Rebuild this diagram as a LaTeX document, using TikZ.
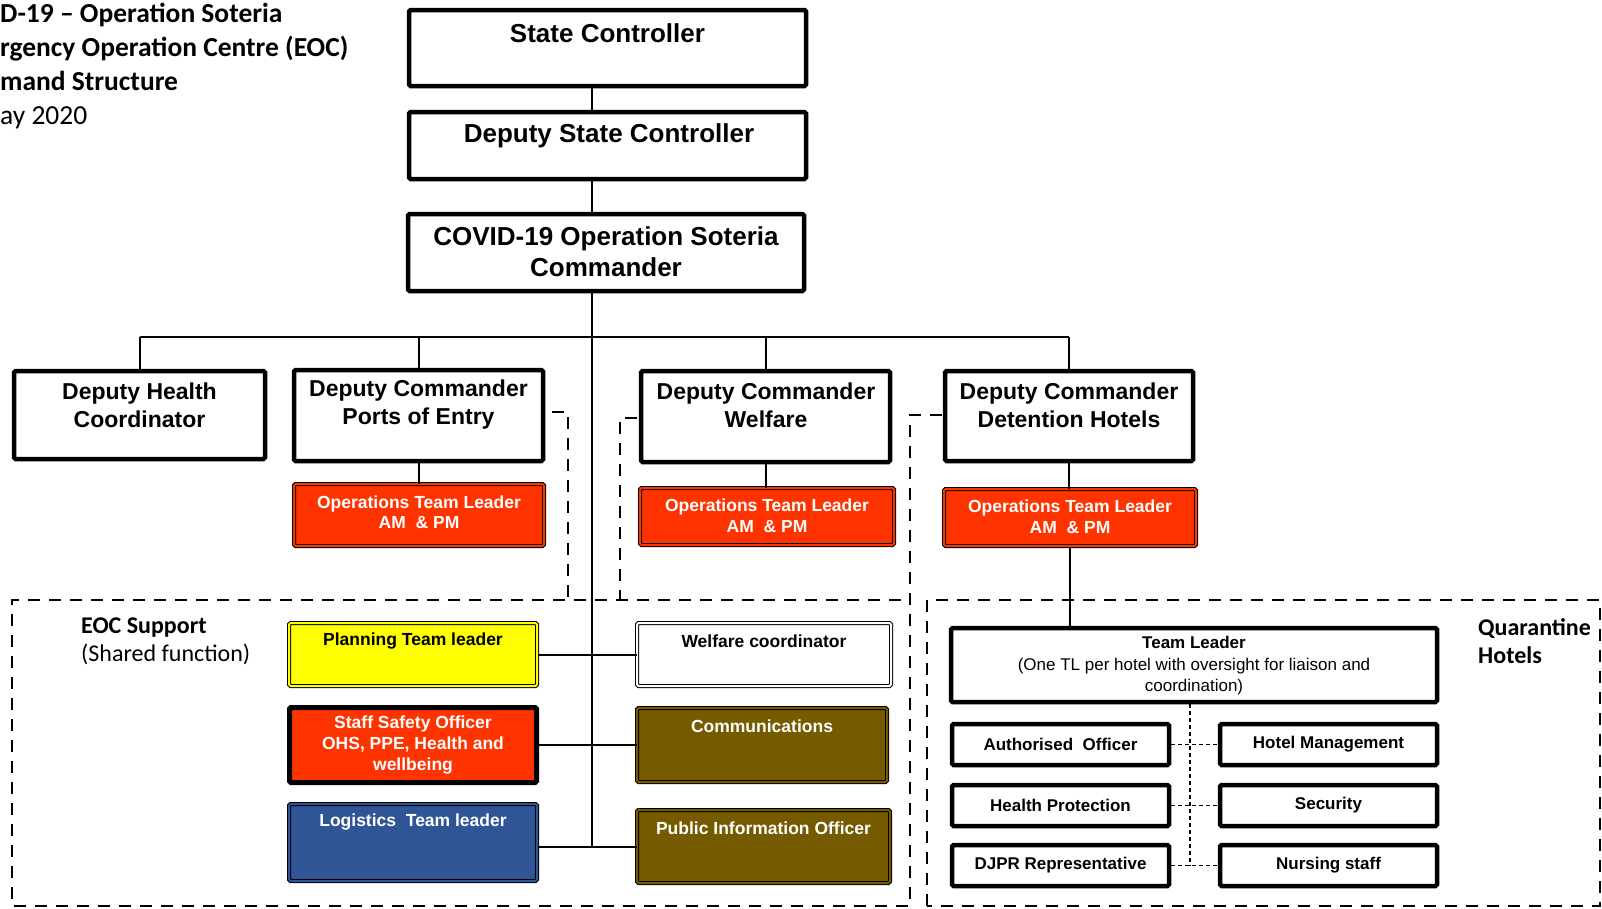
\documentclass[tikz,border=0pt]{standalone}
\usepackage{fontspec}
\setmainfont{Liberation Sans}
\newfontfamily\calfont{Carlito}

\definecolor{opsred}{RGB}{255,51,0}
\definecolor{planyel}{RGB}{255,255,0}
\definecolor{logblue}{RGB}{47,85,151}
\definecolor{commbrown}{RGB}{117,90,0}

\tikzset{
  thickbox/.style={draw, line width=4.5pt, rounded corners=1.5pt, inner sep=0pt},
  dblbox/.style={draw=black, line width=1pt, double distance=2pt, rounded corners=1.5pt, inner sep=0pt},
  link/.style={line width=2pt},
  region/.style={line width=2.5pt, dash pattern=on 12pt off 9pt},
  qlink/.style={line width=1.2pt, dash pattern=on 4pt off 3pt},
  headtxt/.style={font=\bfseries\fontsize{26}{31}\selectfont, align=center, inner sep=0pt},
  deptxt/.style={font=\bfseries\fontsize{23}{28}\selectfont, align=center, inner sep=0pt},
  smalltxt/.style={font=\bfseries\fontsize{17.5}{20.5}\selectfont, align=center, inner sep=0pt},
  qtxt/.style={font=\bfseries\fontsize{17}{20}\selectfont, align=center},
}

\begin{document}
\begin{tikzpicture}[x=1pt,y=1pt,yscale=-1,xscale=1]
\useasboundingbox (0,0) rectangle (1602,908);
\clip (0,0) rectangle (1602,908);

% dashed regions
\draw[region] (552,412) -- (568,412) -- (568,600);
\draw[region] (637,418) -- (620,418) -- (620,600);
\draw[region] (942,415) -- (910,415) -- (910,906) -- (12,906) -- (12,600) -- (910,600);
\draw[region] (927,906) -- (927,600) -- (1600,600) -- (1600,906) -- cycle;

% title and region labels
\node (title) [anchor=west, align=left, inner sep=0pt, font=\calfont\fontsize{27.5}{34}\selectfont] at (0,66)
  {\textbf{D-19 – Operation Soteria}\\ \textbf{rgency Operation Centre (EOC)}\\ \textbf{mand Structure}\\ ay 2020};
\node (eoclbl) [anchor=west, align=left, inner sep=0pt, font=\calfont\fontsize{24}{28}\selectfont] at (81,641)
  {\textbf{EOC Support}\\(Shared function)};
\node (qhlbl) [anchor=west, align=left, inner sep=0pt, font=\calfont\bfseries\fontsize{24}{28}\selectfont] at (1478,641)
  {Quarantine\\Hotels};

% command chain
\node (sc) [thickbox, minimum width=397, minimum height=76] at (607.5,48) {};
\node (sctxt) [headtxt] at (607.5,33) {State Controller};
\node (dsc) [thickbox, minimum width=397, minimum height=67] at (607.5,145.5) {};
\node (dsctxt) [headtxt] at (609,136) {Deputy State Controller};
\node (cmd) [thickbox, minimum width=396, minimum height=77] at (606,252.5) {};
\node (cmdtxt) [headtxt] at (606,251.5) {COVID-19 Operation Soteria\\Commander};

% deputies
\node (dhc) [thickbox, minimum width=251, minimum height=88] at (139.5,415) {};
\node (dhctxt) [deptxt] at (139.5,405) {Deputy Health\\Coordinator};
\node (dpe) [thickbox, minimum width=249, minimum height=91] at (418.5,415.5) {};
\node (dpetxt) [deptxt] at (418.5,405) {Deputy Commander\\Ports of Entry};
\node (dwf) [thickbox, minimum width=249, minimum height=91] at (765.5,416.5) {};
\node (dwftxt) [deptxt] at (766,405) {Deputy Commander\\Welfare};
\node (ddh) [thickbox, minimum width=248, minimum height=90] at (1069,416) {};
\node (ddhtxt) [deptxt] at (1069,405) {Deputy Commander\\Detention Hotels};

% operations team leaders
\node (opa) [dblbox, double=opsred, fill=opsred, minimum width=250, minimum height=62] at (419,515) {};
\node (opatxt) [smalltxt, text=white] at (419,512) {Operations Team Leader\\AM~~\& PM};
\node (opb) [dblbox, double=opsred, fill=opsred, minimum width=254, minimum height=57] at (767,516.5) {};
\node (opbtxt) [smalltxt, text=white] at (767,515.5) {Operations Team Leader\\AM~~\& PM};
\node (opc) [dblbox, double=opsred, fill=opsred, minimum width=252, minimum height=57] at (1070,517.5) {};
\node (opctxt) [smalltxt, text=white] at (1070,516.5) {Operations Team Leader\\AM~~\& PM};

% EOC support
\node (pl) [dblbox, double=planyel, fill=planyel, minimum width=248, minimum height=63] at (413,654.5) {};
\node (pltxt) [smalltxt] at (413,641) {Planning Team leader};
\node (ss) [draw, line width=5pt, rounded corners=1.5pt, fill=opsred, minimum width=247, minimum height=75,
  smalltxt, text=white] at (413,745) {Staff Safety Officer\\OHS, PPE, Health and\\wellbeing};
\node (lg) [dblbox, double=logblue, fill=logblue, minimum width=248, minimum height=77] at (413,842.5) {};
\node (lgtxt) [smalltxt, text=white] at (413,822) {Logistics~~Team leader};
\node (wc) [dblbox, double=white, fill=white, minimum width=254, minimum height=63] at (764,654.5) {};
\node (wctxt) [smalltxt] at (764,641) {Welfare coordinator};
\node (cm) [dblbox, double=commbrown, fill=commbrown, minimum width=250, minimum height=74] at (762,745) {};
\node (cmtxt) [smalltxt, text=white] at (762,726) {Communications};
\node (pi) [dblbox, double=commbrown, fill=commbrown, minimum width=253, minimum height=73] at (763.5,846.5) {};
\node (pitxt) [smalltxt, text=white] at (763.5,828) {Public Information Officer};

% quarantine hotels
\node (tl) [thickbox, minimum width=486, minimum height=74] at (1194,665) {};
\node (tltxt) [align=center, inner sep=0pt, font=\fontsize{17}{21.5}\selectfont] at (1194,666)
  {\textbf{Team Leader}\\(One TL per hotel with oversight for liaison and\\coordination)};
\node (ao) [thickbox, qtxt, minimum width=217, minimum height=41] at (1060.5,744.5) {Authorised~ Officer};
\node (hp) [thickbox, qtxt, minimum width=217, minimum height=41] at (1060.5,805.5) {Health Protection};
\node (dj) [thickbox, qtxt, minimum width=217, minimum height=41] at (1060.5,865.5) {DJPR Representative};
\node (hm) [thickbox, qtxt, minimum width=217, minimum height=41] at (1328.5,744.5) {Hotel Management};
\node (se) [thickbox, qtxt, minimum width=217, minimum height=41] at (1328.5,805.5) {Security};
\node (ns) [thickbox, qtxt, minimum width=217, minimum height=41] at (1328.5,865.5) {Nursing staff};

% connectors
\coordinate (tk) at (592,0);
\coordinate (bus) at (0,337);
\coordinate (qm) at (1190,0);
\draw[link] (sc.south -| tk) -- (dsc.north -| tk);
\draw[link] (dsc.south -| tk) -- (cmd.north -| tk);
\draw[link] (cmd.south -| tk) -- (pi.west -| tk);
\draw[link] (dhc.north |- bus) -- (ddh.north |- bus);
\foreach \b in {dhc,dpe,dwf,ddh}
  \draw[link] (\b.north |- bus) -- (\b.north);
\foreach \a/\b in {dpe/opa,dwf/opb,ddh/opc}
  \draw[link] (\a.south) -- (\a.south |- \b.north);
\draw[link] (opc.south) -- (opc.south |- tl.north);
\draw[link] (pl.east) -- (wc.west);
\draw[link] (ss.east) -- (cm.west);
\draw[link] (lg.east |- pi.west) -- (pi.west);
\draw[qlink] (tl.south -| qm) -- (dj.east -| qm);
\foreach \a/\b in {ao/hm,hp/se,dj/ns}
  \draw[qlink] (\a.east) -- (\b.west);
\end{tikzpicture}
\end{document}
